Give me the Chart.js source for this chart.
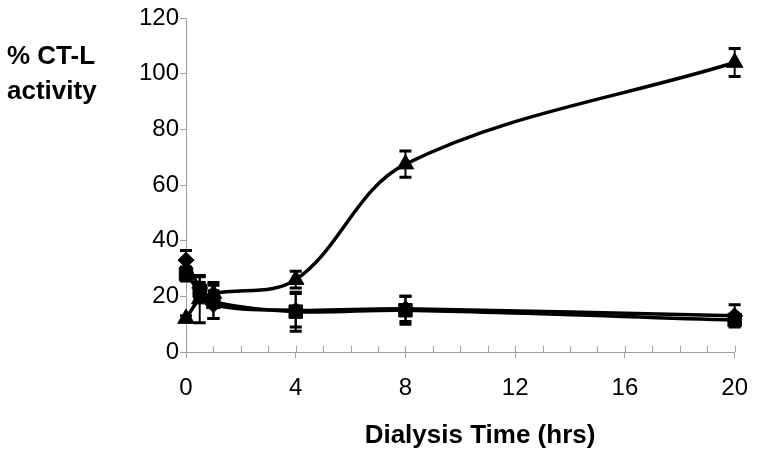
<!DOCTYPE html>
<html>
<head>
<meta charset="utf-8">
<script src="https://cdn.jsdelivr.net/npm/chart.js@4.4.0/dist/chart.umd.min.js"></script>
<style>
  html, body { margin: 0; padding: 0; background: #fff; }
  #wrap { width: 764px; height: 458px; }
</style>
</head>
<body>
<div id="wrap"><canvas id="chart" width="764" height="458"></canvas></div>
<script>
// dialysis time points (hrs)
var times = [0, 0.5, 1, 4, 8, 20];

// % CT-L activity, three series (diamond, square, triangle markers)
var diamondVals = [33, 23, 17, 15, 15.5, 13];
var diamondErr = [3.5, 4, 5, 6, 4.5, 4];
var squareVals = [28, 22, 18, 14.5, 15, 11.5];
var squareErr = [2.5, 3, 6, 7, 5, 2];
var triangleVals = [12, 19, 21, 26, 67.5, 104];
var triangleErr = [1, 8.5, 4, 3, 4.7, 5];

var xTicks = [0, 4, 8, 12, 16, 20];
var yTicks = [0, 20, 40, 60, 80, 100, 120];

var axisGray = '#a0a0a0';
var fontFam = "'Liberation Sans', Arial, sans-serif";

function toPoints(vals) {
  var out = [];
  for (var i = 0; i < times.length; i++) {
    out.push({x: times[i], y: vals[i]});
  }
  return out;
}

function series(vals, style, radius) {
  return {
    data: toPoints(vals),
    borderColor: '#000',
    backgroundColor: '#000',
    borderWidth: 3.5,
    pointStyle: style,
    pointRadius: radius,
    pointBorderWidth: 1,
    tension: 0.35,
    clip: false
  };
}

var errs = [diamondErr, squareErr, triangleErr];
var seriesVals = [diamondVals, squareVals, triangleVals];

// error bars drawn with the chart's own scales
var errorBars = {
  id: 'errorBars',
  afterDatasetsDraw: function(chart) {
    var c = chart.ctx;
    var yScale = chart.scales.y;
    c.save();
    c.strokeStyle = '#000';
    for (var d = 0; d < errs.length; d++) {
      var meta = chart.getDatasetMeta(d);
      for (var i = 0; i < meta.data.length; i++) {
        var px = meta.data[i].x;
        var top = yScale.getPixelForValue(seriesVals[d][i] + errs[d][i]);
        var bot = yScale.getPixelForValue(seriesVals[d][i] - errs[d][i]);
        c.lineWidth = 2;
        c.beginPath();
        c.moveTo(px, top); c.lineTo(px, bot);
        c.stroke();
        c.lineWidth = 3;
        c.beginPath();
        c.moveTo(px - 6, top); c.lineTo(px + 6, top);
        c.moveTo(px - 6, bot); c.lineTo(px + 6, bot);
        c.stroke();
      }
    }
    c.restore();
  }
};

// minor ticks pointing into the plot, plus the axis titles
var extras = {
  id: 'extras',
  afterDraw: function(chart) {
    var c = chart.ctx;
    var xs = chart.scales.x;
    var area = chart.chartArea;
    c.save();
    c.strokeStyle = axisGray;
    c.lineWidth = 1;
    c.beginPath();
    for (var v = 0; v <= 20; v++) {
      var px = Math.round(xs.getPixelForValue(v)) + 0.5;
      c.moveTo(px, area.bottom);
      c.lineTo(px, area.bottom - 6);
    }
    c.stroke();

    c.fillStyle = '#000';
    c.font = 'bold 26px ' + fontFam;
    c.textAlign = 'left';
    c.textBaseline = 'alphabetic';
    c.fillText('% CT-L', 7, 64);
    c.fillText('activity', 7, 99);

    c.textAlign = 'center';
    c.fillText('Dialysis Time (hrs)', 480, 443);
    c.restore();
  }
};

var ctx = document.getElementById('chart').getContext('2d');
var chart = new Chart(ctx, {
  type: 'line',
  data: {
    datasets: [
      series(diamondVals, 'rectRot', 8),
      series(squareVals, 'rect', 9.5),
      series(triangleVals, 'triangle', 9.5)
    ]
  },
  options: {
    responsive: false,
    animation: false,
    layout: { padding: { top: 18, right: 27, left: 0, bottom: 0 } },
    plugins: { legend: { display: false }, tooltip: { enabled: false } },
    scales: {
      x: {
        type: 'linear',
        min: 0,
        max: 20,
        afterBuildTicks: function(scale) {
          var t = [];
          for (var v = 0; v <= 20; v++) t.push({value: v});
          scale.ticks = t;
        },
        ticks: {
          autoSkip: false,
          maxRotation: 0,
          padding: 16,
          color: '#000',
          font: { size: 24, family: fontFam },
          callback: function(v) { return xTicks.indexOf(v) >= 0 ? String(v) : ''; }
        },
        grid: {
          drawOnChartArea: false,
          tickLength: 6,
          tickColor: function(c) {
            return c.tick && xTicks.indexOf(c.tick.value) >= 0 ? axisGray : 'rgba(0,0,0,0)';
          }
        },
        border: { color: axisGray, width: 1 },
        afterFit: function(scale) { scale.height = 106; }
      },
      y: {
        min: 0,
        max: 120,
        afterBuildTicks: function(scale) {
          scale.ticks = yTicks.map(function(v) { return {value: v}; });
        },
        ticks: {
          padding: 1,
          color: '#000',
          font: { size: 24, family: fontFam }
        },
        grid: { drawOnChartArea: false, tickLength: 6, tickColor: axisGray },
        border: { color: axisGray, width: 1 },
        afterFit: function(scale) { scale.width = 186; }
      }
    }
  },
  plugins: [errorBars, extras]
});
</script>
</body>
</html>
